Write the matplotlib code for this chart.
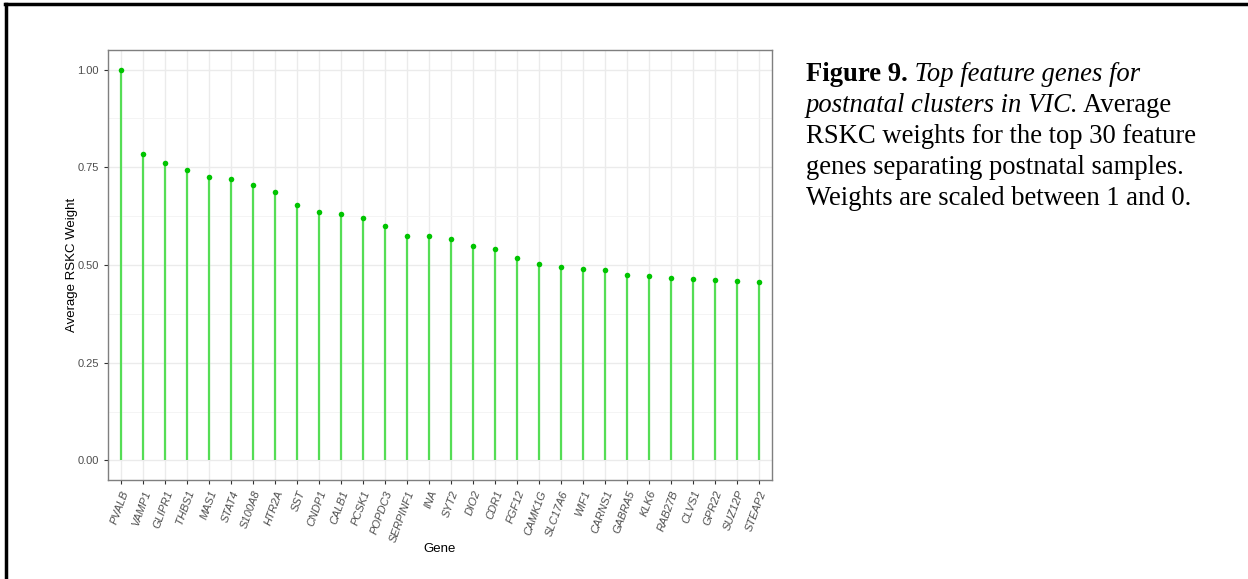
import matplotlib
matplotlib.use("Agg")
from matplotlib import pyplot as plt
from matplotlib.lines import Line2D
import numpy as np

genes = ["PVALB", "VAMP1", "GLIPR1", "THBS1", "MAS1", "STAT4", "S100A8", "HTR2A",
         "SST", "CNDP1", "CALB1", "PCSK1", "POPDC3", "SERPINF1", "INA", "SYT2",
         "DIO2", "CDR1", "FGF12", "CAMK1G", "SLC17A6", "WIF1", "CARNS1", "GABRA5",
         "KLK6", "RAB27B", "CLVS1", "GPR22", "SUZ12P", "STEAP2"]
weights = [1.000, 0.783, 0.760, 0.742, 0.726, 0.719, 0.704, 0.687,
           0.653, 0.636, 0.630, 0.620, 0.601, 0.573, 0.573, 0.567,
           0.548, 0.541, 0.517, 0.502, 0.496, 0.489, 0.487, 0.475,
           0.471, 0.468, 0.463, 0.461, 0.458, 0.457]

plt.rcParams['font.family'] = ['Liberation Sans', 'DejaVu Sans']

fig = plt.figure(figsize=(12.48, 5.79), dpi=100)
W, H = 1248, 579

# plot panel (pixel box: left 108, right 772, top 50, bottom 480)
ax = fig.add_axes([108 / W, 1 - 480 / H, (772 - 108) / W, (480 - 50) / H])
x = np.arange(len(genes))

# stems + points
ax.vlines(x, 0, weights, color="#55dd55", lw=1.6, zorder=3)
ax.scatter(x, weights, s=16, color="#00c400", zorder=4, linewidths=0)

ax.set_xlim(-0.6, len(genes) - 0.4)
ax.set_ylim(-0.05, 1.05)
ax.set_xticks(x)
ax.set_xticklabels(genes, rotation=70, ha="right", rotation_mode="anchor",
                   fontsize=8, color="#4d4d4d", style="italic")
ax.set_yticks([0, 0.25, 0.5, 0.75, 1.0])
ax.set_yticklabels(["0.00", "0.25", "0.50", "0.75", "1.00"], fontsize=8, color="#4d4d4d")
ax.set_yticks([0.125, 0.375, 0.625, 0.875], minor=True)
ax.tick_params(axis="both", which="major", length=3, color="#333333", width=0.8)
ax.tick_params(axis="y", which="minor", length=0)

ax.grid(True, which="major", color="#ebebeb", lw=1.0, zorder=0)
ax.grid(True, which="minor", axis="y", color="#f3f3f3", lw=0.6, zorder=0)
ax.set_axisbelow(True)
for s in ax.spines.values():
    s.set_color("#7f7f7f")
    s.set_linewidth(1.0)

ax.set_xlabel("Gene", fontsize=9.5, labelpad=0)
ax.set_ylabel("Average RSKC Weight", fontsize=9.5, labelpad=-0.5)

# page border (top and left only)
fig.add_artist(Line2D([5 / W, 1], [1 - 4 / H, 1 - 4 / H], color="black", lw=2.5,
                      transform=fig.transFigure))
fig.add_artist(Line2D([6 / W, 6 / W], [0, 1 - 4 / H], color="black", lw=2.5,
                      transform=fig.transFigure))

# caption with mixed styles
serif = "Liberation Serif"
fs = 19.2
lines = [
    [("Figure 9.", "bold", "normal"), (" Top feature genes for", "normal", "italic")],
    [("postnatal clusters in VIC.", "normal", "italic"), (" Average", "normal", "normal")],
    [("RSKC weights for the top 30 feature", "normal", "normal")],
    [("genes separating postnatal samples.", "normal", "normal")],
    [("Weights are scaled between 1 and 0.", "normal", "normal")],
]
renderer = fig.canvas.get_renderer()
x0 = 806
y0 = 81
dy = 31
for i, parts in enumerate(lines):
    xp = x0
    yb = y0 + i * dy
    for txt, wt, st in parts:
        t = fig.text(xp / W, 1 - yb / H, txt, fontsize=fs, family=serif,
                     weight=wt, style=st, va="baseline", ha="left")
        bb = t.get_window_extent(renderer=renderer)
        xp += bb.width

fig.savefig("out.png", dpi=100)
